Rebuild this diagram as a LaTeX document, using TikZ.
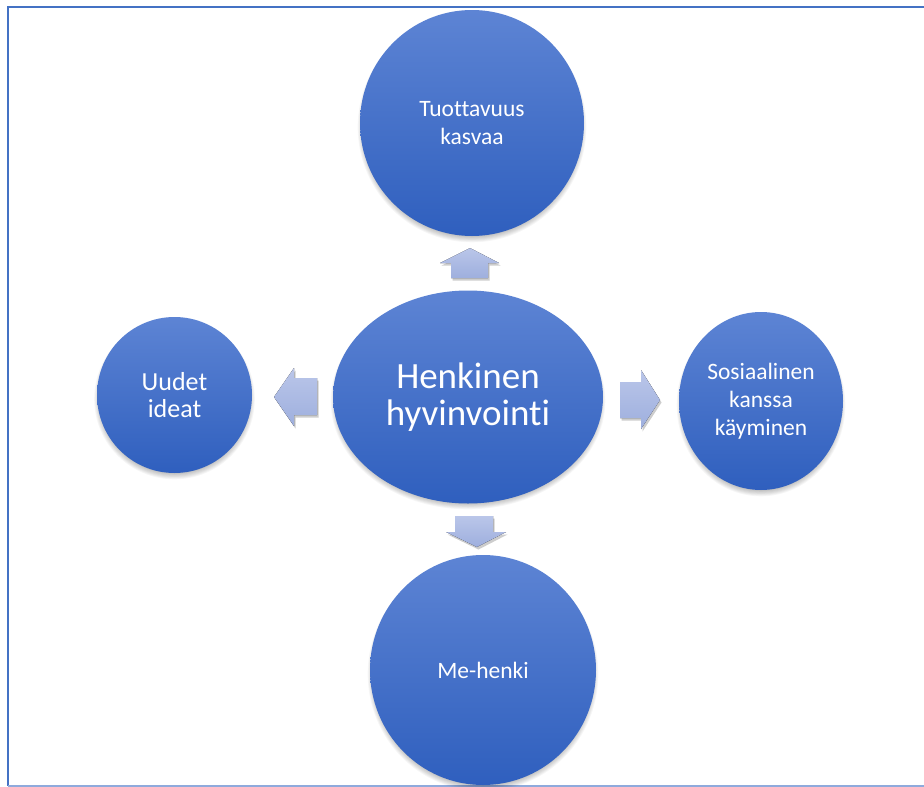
\documentclass[tikz,border=0pt]{standalone}
\usepackage{fontspec}
\setmainfont{Carlito}[Ligatures=CommonOff]
\usetikzlibrary{shapes.geometric}
\definecolor{ctop}{RGB}{93,132,212}
\definecolor{cbot}{RGB}{47,95,190}
\definecolor{atop}{RGB}{186,198,233}
\definecolor{abot}{RGB}{158,175,222}
\definecolor{bdark}{RGB}{68,114,196}
\definecolor{blight}{RGB}{143,170,220}
\tikzset{
  bubble/.style={ellipse, inner sep=0pt, top color=ctop, bottom color=cbot, draw=none,
    text=white, align=center, font=\fontsize{23.5}{28}\selectfont},
  arrowshape/.style={top color=atop, bottom color=abot, draw=none},
}
\newcommand{\softshadow}[4]{%
  \foreach \i in {1,...,7}{%
    \fill[black, opacity=0.035] (#1,#2+4) ellipse [x radius=#3+\i*0.9, y radius=#4+\i*0.9];
  }}
\newcommand{\arrowshadow}[1]{%
  \foreach \i in {1,...,4}{%
    \fill[black, opacity=0.05, shift={(1.5,2.5)}] #1;
  }}
\begin{document}
\begin{tikzpicture}[x=1pt, y=-1pt]
\useasboundingbox (0,0) rectangle (924,787);
\fill[white] (0,0) rectangle (924,787);
\begin{scope}
\clip (0,0) rectangle (924,787);
% frame
\draw[bdark, line width=2pt] (8,786) -- (8,6.5) -- (930,6.5);
\draw[blight, line width=1.5pt] (8,786) -- (930,786);

% shadows of the circles
\softshadow{472}{123}{108}{109}
\softshadow{468}{397}{131}{102}
\softshadow{174.5}{395}{74}{74}
\softshadow{761}{401}{78}{85}
\softshadow{483}{670}{109}{111}

% arrows
\def\uparr{(470,248) -- (499,263) -- (488,263) -- (488,278) -- (451,278) -- (451,263) -- (440,263) -- cycle}
\def\leftarr{(274,397) -- (294,368) -- (294,378) -- (317,378) -- (317,415) -- (294,415) -- (294,426) -- cycle}
\def\rightarr{(660,400) -- (641,370) -- (641,382) -- (620,382) -- (620,418) -- (641,418) -- (641,429) -- cycle}
\def\downarr{(477,547) -- (506,532) -- (493,532) -- (493,516) -- (455,516) -- (455,532) -- (446,532) -- cycle}
\arrowshadow{\uparr}
\arrowshadow{\leftarr}
\arrowshadow{\rightarr}
\arrowshadow{\downarr}
\fill[arrowshape] \uparr;
\fill[arrowshape] \leftarr;
\fill[arrowshape] \rightarr;
\fill[arrowshape] \downarr;

% circles
\node[bubble, minimum width=224pt, minimum height=226pt] (tuottavuus) at (472,123) {Tuottavuus\\kasvaa};
\node[bubble, minimum width=270pt, minimum height=213pt, font=\fontsize{37}{37}\selectfont] (henkinen) at (468,397) {Henkinen\\hyvinvointi};
\node[bubble, minimum width=155pt, minimum height=156pt, font=\fontsize{26}{27}\selectfont] (uudet) at (174.5,395) {Uudet\\ideat};
\node[bubble, minimum width=164pt, minimum height=178pt] (sosiaalinen) at (761,401) {Sosiaalinen\\kanssa\\käyminen};
\node[bubble, minimum width=226pt, minimum height=230pt] (mehenki) at (483,670) {Me-henki};
\end{scope}
\end{tikzpicture}
\end{document}
